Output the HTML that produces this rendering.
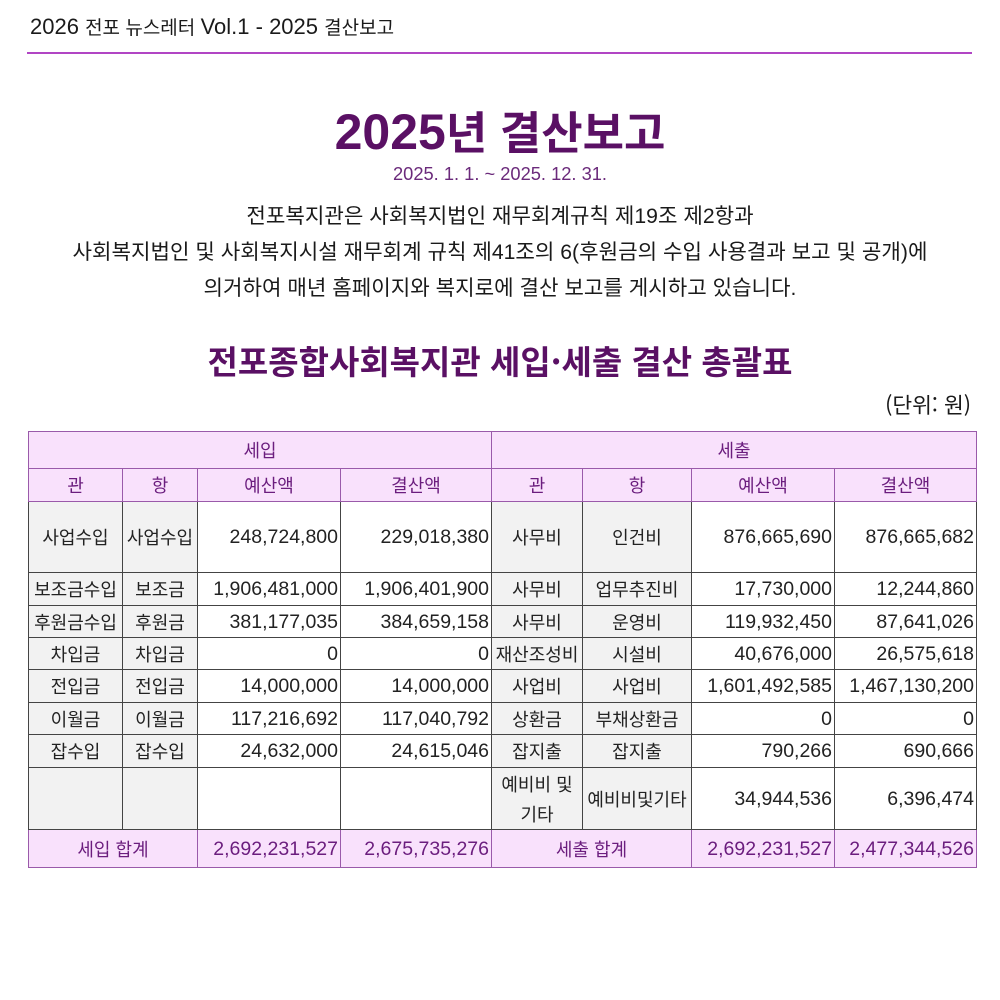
<!DOCTYPE html>
<html lang="ko">
<head>
<meta charset="utf-8">
<style>
  html,body{margin:0;padding:0;background:#fff;}
  body{width:1000px;height:1000px;position:relative;overflow:hidden;
    font-family:"Liberation Sans","Noto Sans CJK KR",sans-serif;color:#222;}
  .abs{position:absolute;white-space:nowrap;}
  .k{font-family:"Noto Sans CJK KR","Liberation Sans",sans-serif;}
  #hdr{left:30px;top:15px;height:24px;line-height:24px;font-size:22px;color:#1a1a1a;}
  #hdr .k{font-size:19px;}
  #rule{left:27px;top:52px;width:945px;height:2px;background:#b145c4;}
  #title{left:0;width:1000px;top:105px;height:50px;line-height:50px;text-align:center;
    font-size:50px;font-weight:bold;color:#5a1064;}
  #title .k{font-size:45px;font-weight:700;}
  #date{left:0;width:1000px;top:162px;height:24px;line-height:24px;text-align:center;
    font-size:18.3px;color:#6b2a7b;}
  #para{left:0;width:1000px;top:199px;line-height:36px;text-align:center;font-size:21.2px;color:#1a1a1a;}
  #sub{left:0;width:1000px;top:340px;height:40px;line-height:40px;text-align:center;
    font-size:33px;font-weight:700;color:#5a1064;}
  #unit{right:29px;top:393px;height:24px;line-height:24px;font-size:21.5px;color:#1a1a1a;}
  table{position:absolute;left:28px;top:431px;width:948px;border-collapse:collapse;table-layout:fixed;}
  td{border:1px solid #444;padding:0;text-align:center;vertical-align:middle;white-space:nowrap;
    overflow:hidden;font-family:"Noto Sans CJK KR","Liberation Sans",sans-serif;font-size:18px;
    line-height:26px;color:#222;}
  td.h{background:#f9e1fc;color:#6b1d7e;border:1px solid #9a5aaa;font-size:18px;}
  td.g{background:#f2f2f2;}
  td.n{text-align:right;padding-right:2px;font-family:"Liberation Sans",sans-serif;font-size:19.5px;
    background:#fff;}
  td.t{background:#f9e1fc;color:#6b1d7e;border-color:#9a5aaa;}
  td.tn{background:#f9e1fc;color:#6b1d7e;border-color:#9a5aaa;text-align:right;padding-right:2px;
    font-family:"Liberation Sans",sans-serif;font-size:19.5px;}
  td.w{line-height:30px;}
</style>
</head>
<body>
<div class="abs" id="hdr">2026 <span class="k">전포 뉴스레터 </span>Vol.1 - 2025 <span class="k">결산보고</span></div>
<div class="abs" id="rule"></div>

<div class="abs" id="title">2025<span class="k">년 결산보고</span></div>
<div class="abs" id="date">2025. 1. 1. ~ 2025. 12. 31.</div>

<div class="abs" id="para">전포복지관은 사회복지법인 재무회계규칙 제19조 제2항과<br>사회복지법인 및 사회복지시설 재무회계 규칙 제41조의 6(후원금의 수입 사용결과 보고 및 공개)에<br>의거하여 매년 홈페이지와 복지로에 결산 보고를 게시하고 있습니다.</div>

<div class="abs k" id="sub">전포종합사회복지관 세입·세출 결산 총괄표</div>
<div class="abs k" id="unit">(단위: 원)</div>

<table>
  <colgroup>
    <col style="width:94px"><col style="width:75px"><col style="width:143px"><col style="width:151px">
    <col style="width:91px"><col style="width:109px"><col style="width:143px"><col style="width:142px">
  </colgroup>
  <tr style="height:37px"><td class="h" colspan="4">세입</td><td class="h" colspan="4">세출</td></tr>
  <tr style="height:33px"><td class="h">관</td><td class="h">항</td><td class="h">예산액</td><td class="h">결산액</td>
    <td class="h">관</td><td class="h">항</td><td class="h">예산액</td><td class="h">결산액</td></tr>
  <tr style="height:71px"><td class="g">사업수입</td><td class="g">사업수입</td><td class="n">248,724,800</td><td class="n">229,018,380</td>
    <td class="g">사무비</td><td class="g">인건비</td><td class="n">876,665,690</td><td class="n">876,665,682</td></tr>
  <tr style="height:33px"><td class="g">보조금수입</td><td class="g">보조금</td><td class="n">1,906,481,000</td><td class="n">1,906,401,900</td>
    <td class="g">사무비</td><td class="g">업무추진비</td><td class="n">17,730,000</td><td class="n">12,244,860</td></tr>
  <tr style="height:32px"><td class="g">후원금수입</td><td class="g">후원금</td><td class="n">381,177,035</td><td class="n">384,659,158</td>
    <td class="g">사무비</td><td class="g">운영비</td><td class="n">119,932,450</td><td class="n">87,641,026</td></tr>
  <tr style="height:32px"><td class="g">차입금</td><td class="g">차입금</td><td class="n">0</td><td class="n">0</td>
    <td class="g">재산조성비</td><td class="g">시설비</td><td class="n">40,676,000</td><td class="n">26,575,618</td></tr>
  <tr style="height:33px"><td class="g">전입금</td><td class="g">전입금</td><td class="n">14,000,000</td><td class="n">14,000,000</td>
    <td class="g">사업비</td><td class="g">사업비</td><td class="n">1,601,492,585</td><td class="n">1,467,130,200</td></tr>
  <tr style="height:32px"><td class="g">이월금</td><td class="g">이월금</td><td class="n">117,216,692</td><td class="n">117,040,792</td>
    <td class="g">상환금</td><td class="g">부채상환금</td><td class="n">0</td><td class="n">0</td></tr>
  <tr style="height:33px"><td class="g">잡수입</td><td class="g">잡수입</td><td class="n">24,632,000</td><td class="n">24,615,046</td>
    <td class="g">잡지출</td><td class="g">잡지출</td><td class="n">790,266</td><td class="n">690,666</td></tr>
  <tr style="height:62px"><td class="g"></td><td class="g"></td><td class="n"></td><td class="n"></td>
    <td class="g w">예비비 및<br>기타</td><td class="g">예비비및기타</td><td class="n">34,944,536</td><td class="n">6,396,474</td></tr>
  <tr style="height:38px"><td class="t" colspan="2">세입 합계</td><td class="tn">2,692,231,527</td><td class="tn">2,675,735,276</td>
    <td class="t" colspan="2">세출 합계</td><td class="tn">2,692,231,527</td><td class="tn">2,477,344,526</td></tr>
</table>
</body>
</html>
